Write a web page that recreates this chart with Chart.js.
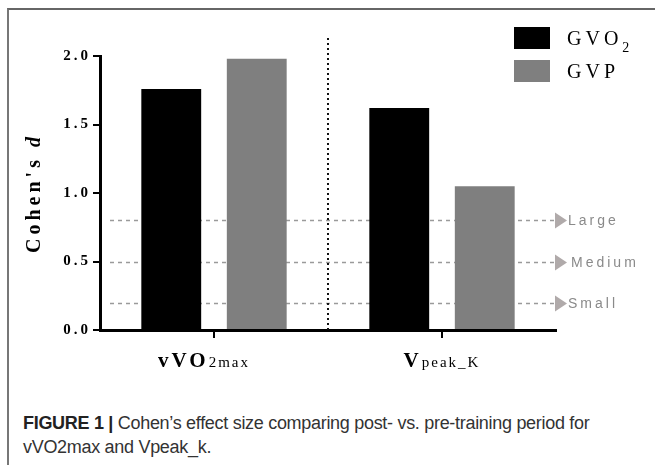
<!DOCTYPE html>
<html>
<head>
<meta charset="utf-8">
<script src="https://cdn.jsdelivr.net/npm/chart.js@4"></script>
<style>
  body { margin: 0; background: #fff; }
  #frame { position: absolute; left: 7px; top: 8px; width: 648px; height: 457px;
           border-top: 2px solid #666; border-left: 2px solid #777; }
  #box { position: absolute; left: 0; top: 0; width: 655px; height: 400px; }
  #caption { position: absolute; left: 23px; top: 411px; font-family: 'Liberation Sans', Arial, sans-serif;
             font-size: 18px; line-height: 24px; color: #333; white-space: nowrap; letter-spacing: -0.3px; }
  #caption b { color: #222; }
</style>
</head>
<body>
<div id="frame"></div>
<div id="box"><canvas id="chart"></canvas></div>
<div id="caption"><b>FIGURE 1 |</b> Cohen’s effect size comparing post- vs. pre-training period for<br>vVO2max and Vpeak_k.</div>
<script>
'use strict';

var categories = ['vVO2max', 'Vpeak_K'];
var categoryParts = [['vVO', '2max'], ['V', 'peak_K']];
var gvo2Values = [1.76, 1.62];
var gvpValues = [1.98, 1.05];
var yTicks = [0, 0.5, 1.0, 1.5, 2.0];
var thresholds = [0.8, 0.5, 0.2];
var thresholdLabels = ['Large', 'Medium', 'Small'];

var ctx = document.getElementById('chart').getContext('2d');

var serif = "'Liberation Serif', 'Times New Roman', serif";

// dotted effect size lines, drawn under the bars
var thresholdPlugin = {
  id: 'thresholds',
  beforeDatasetsDraw: function (chart) {
    var c = chart.ctx;
    var y = chart.scales.y;
    var area = chart.chartArea;
    c.save();
    for (var i = 0; i < thresholds.length; i++) {
      var py = Math.round(y.getPixelForValue(thresholds[i])) + 0.5;
      c.strokeStyle = '#9a9a9a';
      c.lineWidth = 1.5;
      c.setLineDash([4, 4]);
      c.beginPath();
      c.moveTo(area.left + 10, py);
      c.lineTo(area.right - 2, py);
      c.stroke();
      c.setLineDash([]);
      c.fillStyle = '#b0aaaa';
      c.beginPath();
      c.moveTo(area.right - 1, py - 8);
      c.lineTo(area.right + 11, py);
      c.lineTo(area.right - 1, py + 8);
      c.closePath();
      c.fill();
      c.fillStyle = '#8a8a8a';
      c.font = "14px 'Liberation Sans', Arial, sans-serif";
      c.letterSpacing = '3px';
      c.textBaseline = 'middle';
      c.textAlign = 'left';
      var tx = thresholdLabels[i] === 'Medium' ? area.right + 15 : area.right + 12;
      c.fillText(thresholdLabels[i], tx, py + 1);
      c.letterSpacing = '0px';
    }
    // vertical dotted separator between groups
    var x = chart.scales.x;
    var mx = Math.round((x.getPixelForValue(0) + x.getPixelForValue(1)) / 2);
    c.strokeStyle = '#111';
    c.lineWidth = 2;
    c.setLineDash([2, 3]);
    c.beginPath();
    c.moveTo(mx, area.top - 18);
    c.lineTo(mx, area.bottom);
    c.stroke();
    c.restore();
  },
  afterDraw: function (chart) {
    var c = chart.ctx;
    var x = chart.scales.x;
    var area = chart.chartArea;
    c.save();
    c.fillStyle = '#000';
    c.textBaseline = 'alphabetic';

    // category labels with subscript part
    for (var i = 0; i < categoryParts.length; i++) {
      var p = categoryParts[i];
      c.font = 'bold 21px ' + serif;
      c.letterSpacing = '3px';
      var w1 = c.measureText(p[0]).width;
      c.font = '15px ' + serif;
      c.letterSpacing = '2px';
      var w2 = c.measureText(p[1]).width;
      var cx = x.getPixelForValue(i) - (i === 0 ? 10 : 0);
      var sx = cx - (w1 + w2) / 2;
      c.font = 'bold 21px ' + serif;
      c.letterSpacing = '3px';
      c.textAlign = 'left';
      c.fillText(p[0], sx, area.bottom + 37);
      c.font = '15px ' + serif;
      c.letterSpacing = '2px';
      c.fillText(p[1], sx + w1, area.bottom + 37);
    }

    // y axis title
    c.save();
    c.translate(35, (area.top + area.bottom) / 2);
    c.rotate(-Math.PI / 2);
    c.font = 'bold 20px ' + serif;
    c.letterSpacing = '4px';
    var t1 = "Cohen's ";
    var tw1 = c.measureText(t1).width;
    c.font = 'italic bold 20px ' + serif;
    var tw2 = c.measureText('d').width;
    var tx0 = -(tw1 + tw2) / 2;
    c.textAlign = 'left';
    c.textBaseline = 'middle';
    c.font = 'bold 20px ' + serif;
    c.fillText(t1, tx0, 0);
    c.font = 'italic bold 20px ' + serif;
    c.fillText('d', tx0 + tw1, 0);
    c.restore();

    // legend
    var ds = chart.data.datasets;
    var names = [['GVO', '2'], ['GVP', '']];
    for (var j = 0; j < ds.length; j++) {
      var by = 27 + j * 33;
      c.fillStyle = ds[j].backgroundColor;
      c.fillRect(514, by, 36, 22);
      c.fillStyle = '#000';
      c.font = '20px ' + serif;
      c.letterSpacing = '4px';
      c.textAlign = 'left';
      c.fillText(names[j][0], 567, by + 18);
      var nw = c.measureText(names[j][0]).width;
      if (names[j][1]) {
        c.font = '14px ' + serif;
        c.fillText(names[j][1], 567 + nw, by + 25);
      }
    }
    c.letterSpacing = '0px';
    c.restore();
  }
};

var chartData = {
  type: 'bar',
  data: {
    labels: categories,
    datasets: [{
      label: 'GVO2',
      data: gvo2Values,
      backgroundColor: '#000000',
      categoryPercentage: 0.75,
      barPercentage: 0.7
    }, {
      label: 'GVP',
      data: gvpValues,
      backgroundColor: '#7f7f7f',
      categoryPercentage: 0.75,
      barPercentage: 0.7
    }]
  },
  options: {
    responsive: true,
    maintainAspectRatio: false,
    animation: false,
    layout: { padding: { top: 56, right: 99, left: 0, bottom: 0 } },
    plugins: {
      legend: { display: false },
      tooltip: { enabled: false }
    },
    scales: {
      x: {
        grid: { offset: false, drawOnChartArea: false, drawTicks: true, tickLength: 8, color: '#000', lineWidth: 2 },
        border: { display: true, color: '#000', width: 3 },
        ticks: { display: false },
        afterFit: function (s) { s.height = 70; }
      },
      y: {
        min: 0,
        max: 2,
        afterBuildTicks: function (s) {
          s.ticks = yTicks.map(function (v) { return { value: v }; });
        },
        grid: { drawOnChartArea: false, drawTicks: true, tickLength: 7, color: '#000', lineWidth: 2 },
        border: { display: true, color: '#000', width: 3 },
        ticks: {
          color: '#000',
          padding: 5,
          font: { family: serif, size: 15, weight: 'bold' },
          callback: function (v) { return Number(v).toFixed(1).split('').join('\u2009'); }
        },
        afterFit: function (s) { s.width = 100; }
      }
    }
  },
  plugins: [thresholdPlugin]
};

var charts = new Chart(ctx, chartData);
</script>
</body>
</html>
